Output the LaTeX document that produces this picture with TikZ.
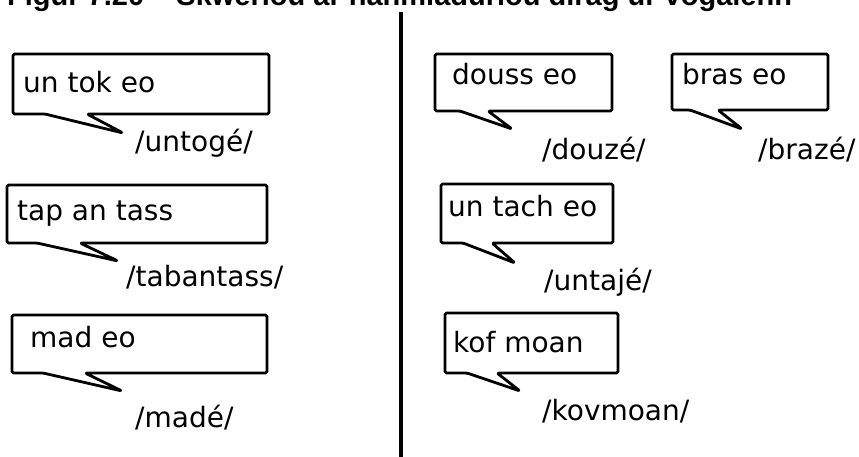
\documentclass[tikz,border=0pt]{standalone}
\usepackage{fontspec}
\setmainfont{DejaVu Sans}
\newfontfamily\titlefamily{Liberation Sans}
\tikzset{
  bubble/.style={draw=black, line width=2.8pt, fill=white, rounded corners=1.5pt, line join=round},
  word/.style={anchor=base west, inner sep=0pt, font=\fontsize{28}{32}\selectfont},
  sound/.style={anchor=base west, inner sep=0pt, font=\fontsize{28}{32}\selectfont},
}
% #1 left, #2 top, #3 right, #4 bottom, #5 tail base left x, #6 tail base right x, #7 tip x, #8 tip y
\newcommand\bubblebox[8]{%
  \draw[bubble] (#1,#2) -- (#3,#2) -- (#3,#4) -- (#6,#4) -- (#7,#8) -- (#5,#4) -- (#1,#4) -- cycle;}
\begin{document}
\begin{tikzpicture}[x=1pt,y=-1pt]
\useasboundingbox (0,0) rectangle (859,457);
\begin{scope}
\clip (0,0) rectangle (859,457);
\node[anchor=base west, inner sep=0pt, font=\titlefamily\bfseries\fontsize{29}{33}\selectfont] (title) at (7,6) {Figur 7.20 – Skweriou ar hanmiaduriou dirag ur vogalenn};
\end{scope}
\coordinate (divtop) at (401,12);
\coordinate (divbot) at (401,457);
\draw[line width=4pt] (divtop) -- (divbot);

% left column
\bubblebox{13}{54}{269}{114}{45}{87}{123}{133}
\node[word] (w1) at (23,93) {un tok eo};
\node[sound] (s1) at (135,152) {/untogé/};

\bubblebox{7}{185}{267}{243}{37}{80}{118}{261}
\node[word] (w2) at (17,221) {tap an tass};
\node[sound] (s2) at (126,286) {/tabantass/};

\bubblebox{12}{315}{267}{373}{43}{85}{122}{391}
\node[word] (w3) at (30,347) {mad eo};
\node[sound] (s3) at (135,427) {/madé/};

% right column
\bubblebox{435}{54}{612}{111}{460}{488}{512}{129}
\node[word] (w4) at (452,85) {douss eo};
\node[sound] (s4) at (542,160) {/douzé/};

\bubblebox{672}{54}{828}{110}{690}{718}{742}{129}
\node[word] (w5) at (682,85) {bras eo};
\node[sound] (s5) at (758,160) {/brazé/};

\bubblebox{441}{184}{613}{243}{463}{492}{515}{263}
\node[word] (w6) at (448,217) {un tach eo};
\node[sound] (s6) at (544,290) {/untajé/};

\bubblebox{445}{313}{618}{373}{467}{497}{520}{391}
\node[word] (w7) at (453,352) {kof moan};
\node[sound] (s7) at (542,420) {/kovmoan/};
\end{tikzpicture}
\end{document}
